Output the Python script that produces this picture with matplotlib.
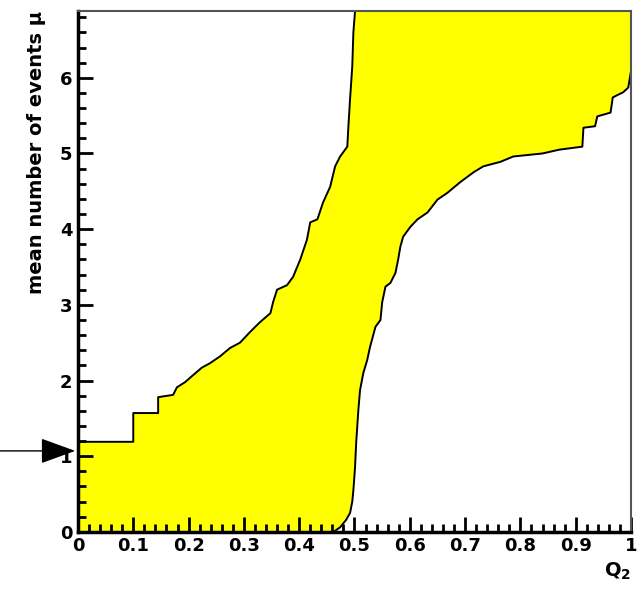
import numpy as np
import matplotlib.pyplot as plt

plt.rcParams['font.family'] = ['DejaVu Sans']
plt.rcParams['mathtext.default'] = 'bf'

YMAX = 6.88
ARROW_Y = 1.07

# upper edge of the band (left curve)
upper_x = [0.0, 0.100, 0.100, 0.145, 0.145, 0.172, 0.179, 0.194, 0.208, 0.224, 0.239,
           0.257, 0.275, 0.293, 0.311, 0.329, 0.348, 0.353, 0.360, 0.378, 0.389, 0.402,
           0.414, 0.420, 0.433, 0.443, 0.456, 0.465, 0.474, 0.487, 0.489, 0.492, 0.496,
           0.498, 0.501]
upper_y = [1.19, 1.19, 1.57, 1.57, 1.78, 1.81, 1.91, 1.98, 2.07, 2.17, 2.23,
           2.32, 2.43, 2.50, 2.64, 2.77, 2.89, 3.04, 3.20, 3.26, 3.37, 3.60,
           3.86, 4.09, 4.13, 4.35, 4.56, 4.83, 4.96, 5.09, 5.36, 5.72, 6.15,
           6.60, 6.88]

# lower edge of the band (right curve)
lower_x = [0.462, 0.474, 0.485, 0.492, 0.496, 0.498, 0.501, 0.503, 0.507, 0.510, 0.516,
           0.523, 0.528, 0.538, 0.547, 0.550, 0.556, 0.565, 0.574, 0.579, 0.583, 0.588,
           0.601, 0.614, 0.632, 0.650, 0.668, 0.691, 0.715, 0.733, 0.764, 0.787, 0.840,
           0.870, 0.912, 0.914, 0.935, 0.939, 0.963, 0.967, 0.975, 0.986, 0.995, 1.0]
lower_y = [0.0, 0.06, 0.16, 0.25, 0.40, 0.55, 0.85, 1.17, 1.61, 1.87, 2.10,
           2.27, 2.44, 2.71, 2.80, 3.03, 3.24, 3.29, 3.42, 3.60, 3.77, 3.90,
           4.03, 4.13, 4.22, 4.39, 4.48, 4.62, 4.75, 4.83, 4.89, 4.96, 5.00,
           5.05, 5.09, 5.34, 5.36, 5.49, 5.54, 5.74, 5.77, 5.81, 5.87, 6.09]

fig = plt.figure(figsize=(6.39, 5.89), dpi=100)
ax = fig.add_axes([0.122, 0.097, 0.8655, 0.884])

poly_x = [0.0] + upper_x + [1.0] + lower_x[::-1] + [0.0]
poly_y = [0.0] + upper_y + [YMAX] + lower_y[::-1] + [0.0]
ax.fill(poly_x, poly_y, color='#ffff00', lw=0, zorder=1)
ax.plot(upper_x, upper_y, color='black', lw=1.4, zorder=2)
ax.plot(lower_x, lower_y, color='black', lw=1.4, zorder=2)

ax.set_xlim(0, 1)
ax.set_ylim(0, YMAX)
ax.set_xticks(np.arange(0, 1.01, 0.1))
ax.set_xticklabels(['0', '0.1', '0.2', '0.3', '0.4', '0.5', '0.6', '0.7', '0.8', '0.9', '1'])
ax.set_xticks(np.arange(0, 1.001, 0.02), minor=True)
ax.set_yticks(range(0, 7))
ax.set_yticks(np.arange(0, 6.9, 0.2), minor=True)

ax.tick_params(which='both', direction='in', top=False, right=False, width=2, color='black')
ax.tick_params(which='major', length=11, labelsize=13, pad=4)
ax.tick_params(which='minor', length=5.5)
for lab in ax.get_xticklabels() + ax.get_yticklabels():
    lab.set_fontweight('bold')

for s in ['left', 'bottom']:
    ax.spines[s].set_linewidth(2.5)
for s in ['top', 'right']:
    ax.spines[s].set_linewidth(1.5)
    ax.spines[s].set_color('#555555')

ax.set_ylabel('mean number of events \u03bc', fontsize=14, fontweight='bold', loc='top', labelpad=10)
ax.set_xlabel('Q$_2$', fontsize=14, fontweight='bold', loc='right', labelpad=4)

# arrow marking the value on the left
ax.annotate('', xy=(-0.005, ARROW_Y), xycoords='data',
            xytext=(0.0, ARROW_Y), textcoords=('figure fraction', 'data'),
            arrowprops=dict(arrowstyle='-|>,head_length=1.1,head_width=0.4',
                            mutation_scale=20, color='black', lw=1, shrinkA=0, shrinkB=0),
            annotation_clip=False, zorder=5)

fig.savefig('out.png', dpi=100)
